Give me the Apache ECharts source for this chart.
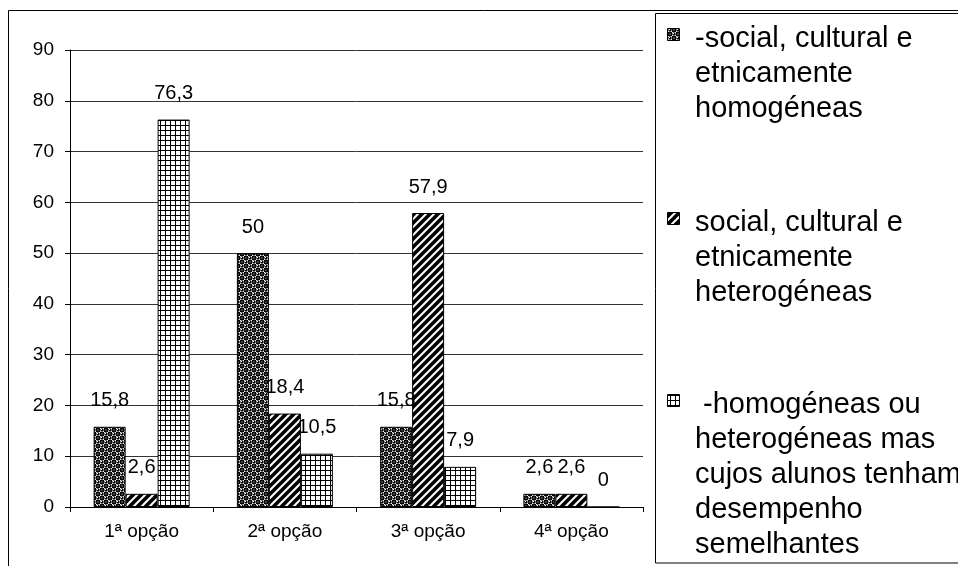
<!DOCTYPE html>
<html>
<head>
<meta charset="utf-8">
<style>
  html, body { margin: 0; padding: 0; background: #fff; }
  #chart { width: 958px; height: 566px; }
</style>
<script src="https://cdn.jsdelivr.net/npm/echarts@6/dist/echarts.min.js"></script>
</head>
<body>
<div id="chart"></div>
<script>
  // categorias e valores (%)
  const categories = ['1ª opção', '2ª opção', '3ª opção', '4ª opção']
  const homogeneas = [15.8, 50, 15.8, 2.6]
  const heterogeneas = [2.6, 18.4, 57.9, 2.6]
  const desempenho = [76.3, 10.5, 7.9, 0]
  const yTicks = [0, 10, 20, 30, 40, 50, 60, 70, 80, 90]

  const seriesNames = [
    '-social, cultural e\netnicamente\nhomogéneas',
    'social, cultural e\netnicamente\nheterogéneas',
    ' -homogéneas ou\nheterogéneas mas\ncujos alunos tenham\ndesempenho\nsemelhantes'
  ]
  const seriesData = [homogeneas, heterogeneas, desempenho]

  const FONT = '"Liberation Sans", Arial, sans-serif'

  // padrões de preenchimento (tipo Excel)
  function makeTile (size, draw) {
    let c = document.createElement('canvas')
    c.width = size
    c.height = size
    draw(c.getContext('2d'), size)
    return c
  }

  let dots = makeTile(8, function (ctx) {
    ctx.fillStyle = '#000'
    ctx.fillRect(0, 0, 8, 8)
    ctx.fillStyle = '#fff'
    ctx.fillRect(0, 0, 4, 4)
    ctx.fillRect(4, 4, 4, 4)
    ;[[2, 2], [6, 6]].forEach(function (p) {
      ctx.fillStyle = '#000'
      ctx.beginPath()
      ctx.arc(p[0], p[1], 1.7, 0, Math.PI * 2)
      ctx.fill()
      ctx.fillStyle = '#fff'
      ctx.fillRect(p[0] - 1, p[1] - 1, 1, 1)
    })
    ;[[6, 2], [2, 6]].forEach(function (p) {
      ctx.fillStyle = '#fff'
      ctx.fillRect(p[0] - 0.5, p[1] - 0.5, 1, 1)
    })
  })

  let stripes = makeTile(8, function (ctx) {
    ctx.fillStyle = '#000'
    ctx.fillRect(0, 0, 8, 8)
    ctx.strokeStyle = '#fff'
    ctx.lineWidth = 2
    ;[[-4, 4, 4, -4], [0, 8, 8, 0], [4, 12, 12, 4]].forEach(function (l) {
      ctx.beginPath()
      ctx.moveTo(l[0], l[1])
      ctx.lineTo(l[2], l[3])
      ctx.stroke()
    })
  })

  let grid = makeTile(5, function (ctx) {
    ctx.fillStyle = '#fff'
    ctx.fillRect(0, 0, 5, 5)
    ctx.fillStyle = '#000'
    ctx.fillRect(0, 0, 5, 1)
    ctx.fillRect(0, 0, 1, 5)
  })

  const patterns = [dots, stripes, grid]

  let chart = echarts.init(document.getElementById('chart'))

  let series = seriesData.map(function (d, i) {
    return {
      name: seriesNames[i],
      type: 'bar',
      data: d,
      barWidth: 32,
      barGap: '0%',
      itemStyle: {
        color: { image: patterns[i], repeat: 'repeat' },
        borderColor: '#000',
        borderWidth: 1
      },
      label: {
        show: true,
        position: 'top',
        distance: 16,
        color: '#000',
        fontFamily: FONT,
        fontSize: 20,
        formatter: function (p) { return String(p.value).replace('.', ',') }
      }
    }
  })

  // legenda desenhada à mão (ícone alinhado à primeira linha)
  let legendTops = [21, 205, 387]
  let legendGraphics = []
  seriesNames.forEach(function (name, i) {
    legendGraphics.push({
      type: 'rect',
      shape: { x: 667.5, y: legendTops[i] + 7.5, width: 12, height: 12 },
      style: { fill: { image: patterns[i], repeat: 'repeat' }, stroke: '#000', lineWidth: 1 }
    })
    legendGraphics.push({
      type: 'text',
      x: 695,
      y: legendTops[i],
      style: {
        text: name,
        fill: '#000',
        font: '29px ' + FONT,
        lineHeight: 35,
        verticalAlign: 'top'
      }
    })
  })

  let option = {
    animation: false,
    backgroundColor: '#fff',
    grid: {
      left: 70,
      top: 50,
      right: 315,
      bottom: 59
    },
    xAxis: {
      type: 'category',
      data: categories,
      axisLine: { lineStyle: { color: '#000', width: 1 } },
      axisTick: { show: true, length: 5, lineStyle: { color: '#000' } },
      axisLabel: { color: '#000', fontFamily: FONT, fontSize: 19, margin: 15 },
      splitLine: { show: false }
    },
    yAxis: {
      type: 'value',
      min: yTicks[0],
      max: yTicks[yTicks.length - 1],
      interval: 10,
      axisLine: { show: true, lineStyle: { color: '#000', width: 1 } },
      axisTick: { show: true, length: 5, lineStyle: { color: '#000' } },
      axisLabel: { color: '#000', fontFamily: FONT, fontSize: 19, margin: 16 },
      splitLine: { show: true, lineStyle: { color: '#333', width: 1 } }
    },
    graphic: [
      {
        type: 'rect',
        shape: { x: 8.5, y: 10.5, width: 1000, height: 600 },
        style: { fill: 'none', stroke: '#000', lineWidth: 1 },
        z: -1
      },
      {
        type: 'rect',
        shape: { x: 655.5, y: 13.5, width: 400, height: 549.5 },
        style: { fill: '#fff', stroke: '#000', lineWidth: 1 }
      }
    ].concat(legendGraphics),
    series: series
  }

  chart.setOption(option)
</script>
</body>
</html>
